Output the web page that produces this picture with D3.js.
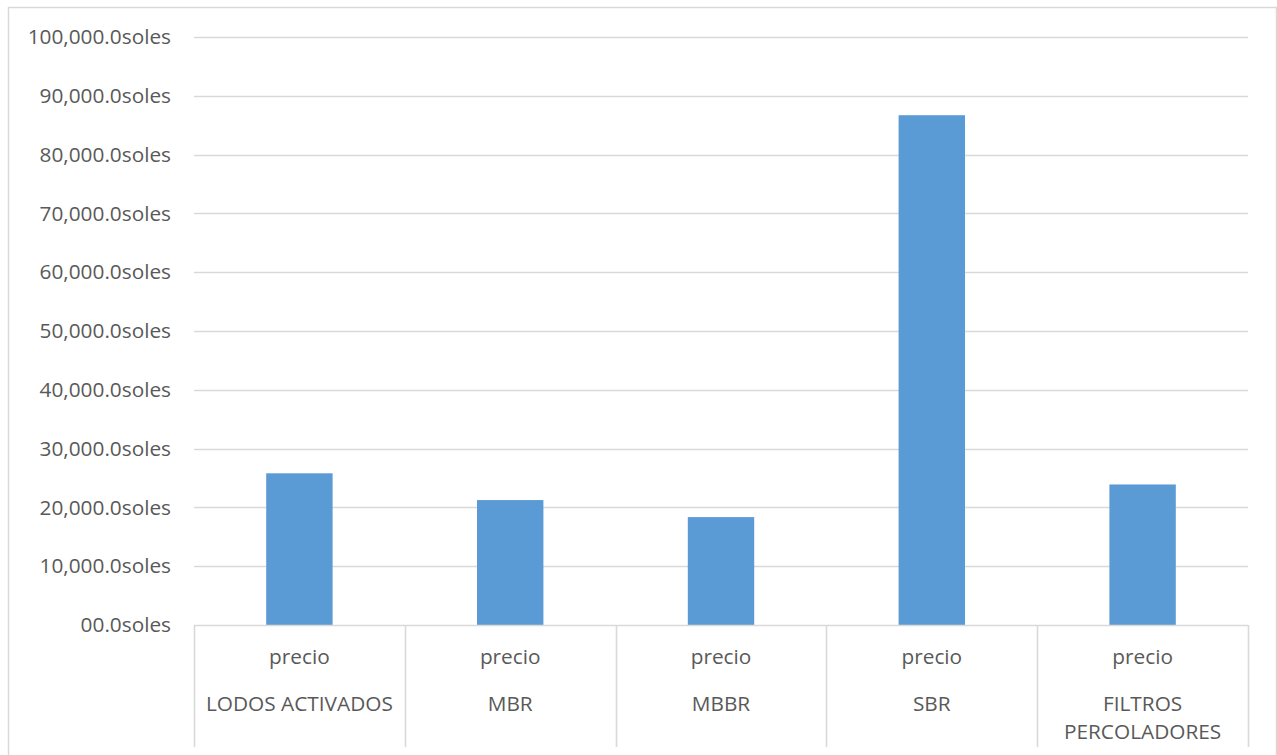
<!DOCTYPE html>
<html>
<head>
<meta charset="utf-8">
<script src="https://cdn.jsdelivr.net/npm/d3@7/dist/d3.min.js"></script>
<style>
  html, body { margin: 0; padding: 0; background: #fff; }
  svg { display: block; }
  text { font-family: "Open Sans", Lato, sans-serif; fill: #595959; }
</style>
</head>
<body>
<svg id="chart" width="1277" height="755"></svg>
<script>
// Precio por tecnología de tratamiento
const categories = ["LODOS ACTIVADOS", "MBR", "MBBR", "SBR", "FILTROS PERCOLADORES"];
const categoryLines = [["LODOS ACTIVADOS"], ["MBR"], ["MBBR"], ["SBR"], ["FILTROS", "PERCOLADORES"]];
const seriesName = "precio";
const precio = [25800, 21250, 18350, 86700, 23900];
const tickValues = [0, 10000, 20000, 30000, 40000, 50000, 60000, 70000, 80000, 90000, 100000];
const tickLabels = ["00.0soles", "10,000.0soles", "20,000.0soles", "30,000.0soles", "40,000.0soles",
  "50,000.0soles", "60,000.0soles", "70,000.0soles", "80,000.0soles", "90,000.0soles", "100,000.0soles"];

const svg = d3.select("#chart");
const W = 1277, H = 755;
const plot = { left: 194, right: 1248, top: 37, bottom: 625 };
const grid = "#d9d9d9";
const fontSize = "20.8px";

// chart area frame
svg.append("rect")
  .attr("x", 8.5).attr("y", 7.5)
  .attr("width", W - 9).attr("height", H + 10)
  .attr("fill", "#fff").attr("stroke", grid).attr("stroke-width", 1.5);

const y = d3.scaleLinear().domain([0, 100000]).range([plot.bottom, plot.top]);
const x = d3.scaleBand().domain(categories).range([plot.left, plot.right]).paddingInner(0).paddingOuter(0);

// horizontal gridlines
svg.append("g")
  .selectAll("line")
  .data(tickValues.filter(v => v > 0))
  .join("line")
  .attr("x1", plot.left).attr("x2", plot.right)
  .attr("y1", d => Math.round(y(d)) + 0.5).attr("y2", d => Math.round(y(d)) + 0.5)
  .attr("stroke", grid).attr("stroke-width", 1.6);

// value axis labels
const yAxis = d3.axisLeft(y)
  .tickValues(tickValues)
  .tickFormat((d, i) => tickLabels[i])
  .tickSize(0).tickPadding(23);
const ya = svg.append("g").attr("transform", `translate(${plot.left},0)`).call(yAxis);
ya.select(".domain").remove();
ya.selectAll("text")
  .style("font-family", "'Open Sans', Lato, sans-serif")
  .style("font-size", fontSize).attr("fill", "#595959");

// bars
const barW = x.bandwidth() * 0.315;
svg.append("g")
  .selectAll("rect")
  .data(categories)
  .join("rect")
  .attr("x", (d) => x(d) + (x.bandwidth() - barW) / 2)
  .attr("width", barW)
  .attr("y", (d, i) => y(precio[i]))
  .attr("height", (d, i) => y(0) - y(precio[i]))
  .attr("fill", "#5b9bd5");

// category axis: baseline and dividers
const axisG = svg.append("g");
axisG.append("line")
  .attr("x1", plot.left).attr("x2", plot.right)
  .attr("y1", plot.bottom + 0.5).attr("y2", plot.bottom + 0.5)
  .attr("stroke", grid).attr("stroke-width", 1.6);
const edges = categories.map(c => x(c)).concat([plot.right]);
axisG.selectAll("line.div")
  .data(edges)
  .join("line")
  .attr("class", "div")
  .attr("x1", d => Math.round(d) + 0.5).attr("x2", d => Math.round(d) + 0.5)
  .attr("y1", plot.bottom).attr("y2", 747)
  .attr("stroke", grid).attr("stroke-width", 1.6);

// series-level labels
axisG.selectAll("text.series")
  .data(categories)
  .join("text")
  .attr("class", "series")
  .attr("x", d => x(d) + x.bandwidth() / 2)
  .attr("y", 664)
  .attr("text-anchor", "middle")
  .style("font-size", fontSize)
  .text(seriesName);

// category labels
const catG = axisG.selectAll("text.cat")
  .data(categories)
  .join("text")
  .attr("class", "cat")
  .attr("x", d => x(d) + x.bandwidth() / 2)
  .attr("y", 711)
  .attr("text-anchor", "middle")
  .style("font-size", fontSize);
catG.selectAll("tspan")
  .data((d, i) => categoryLines[i].map(t => ({ t, cx: x(d) + x.bandwidth() / 2 })))
  .join("tspan")
  .attr("x", d => d.cx)
  .attr("dy", (d, i) => i === 0 ? 0 : 28)
  .text(d => d.t);
</script>
</body>
</html>
